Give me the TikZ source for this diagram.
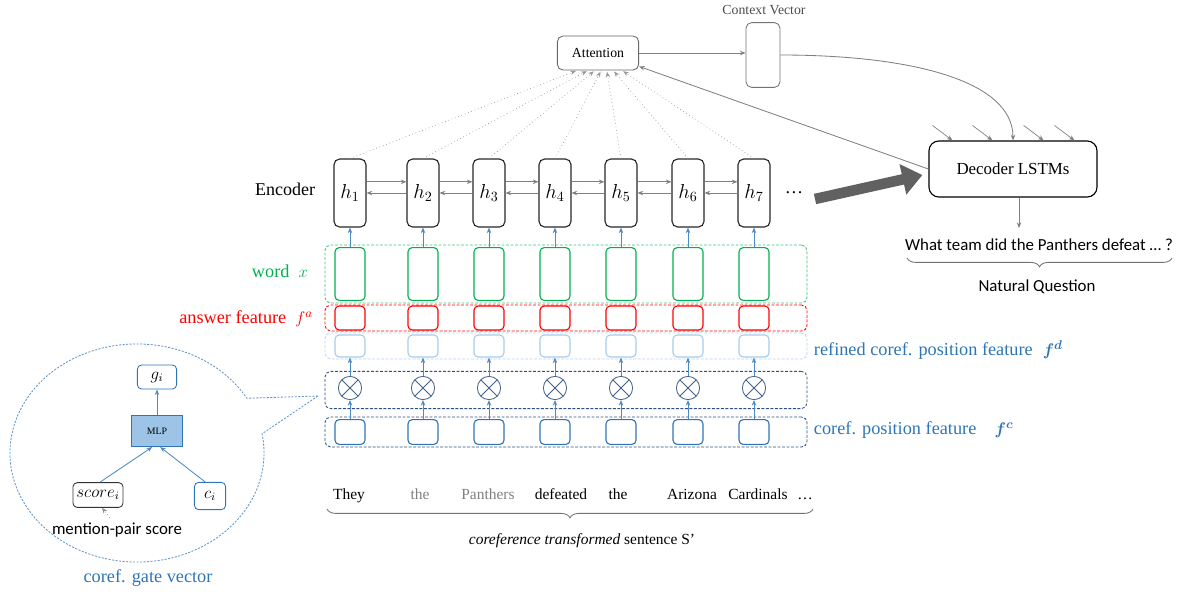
\documentclass[tikz,border=0pt]{standalone}
\usepackage{amsmath}
\usepackage{fontspec}
\setmainfont{Liberation Serif}
\setsansfont{Carlito}
\usetikzlibrary{arrows.meta, positioning, shapes.geometric, shapes.callouts, decorations.pathreplacing, calc}
\definecolor{wordgreen}{HTML}{00B050}
\definecolor{ansred}{HTML}{FF0000}
\definecolor{corefblue}{HTML}{2E75B6}
\definecolor{paleblue}{HTML}{A9CBEA}
\definecolor{darkblue}{HTML}{2F4F7F}
\definecolor{slateblue}{HTML}{44618A}
\definecolor{mlpfill}{HTML}{9DC3E6}
\colorlet{arrowgray}{black!50}

\begin{document}
\begin{tikzpicture}[x=0.025cm, y=-0.025cm, >={Stealth[length=4pt,width=3.2pt]},
    hbox/.style = {rectangle, rounded corners=4pt, draw=black!85, line width=0.8pt, minimum width=0.8cm, minimum height=1.7cm, font=\fontsize{14}{16}\selectfont},
    wordbox/.style = {rectangle, rounded corners=3pt, draw=wordgreen, line width=0.8pt, minimum width=0.75cm, minimum height=1.32cm},
    ansbox/.style = {rectangle, rounded corners=3pt, draw=ansred, line width=0.8pt, minimum width=0.75cm, minimum height=0.6cm},
    refbox/.style = {rectangle, rounded corners=3pt, draw=paleblue, line width=0.8pt, minimum width=0.75cm, minimum height=0.55cm},
    corefbox/.style = {rectangle, rounded corners=3pt, draw=corefblue, line width=0.8pt, minimum width=0.75cm, minimum height=0.62cm},
    gate/.style = {circle, draw=slateblue, line width=0.6pt, minimum size=0.58cm, inner sep=0pt,
        path picture={\draw[slateblue, line width=0.6pt] (path picture bounding box.north west) -- (path picture bounding box.south east) (path picture bounding box.north east) -- (path picture bounding box.south west);}},
    group/.style = {rectangle, rounded corners=4pt, dash pattern=on 2pt off 1.2pt, line width=0.6pt, minimum width=12.05cm},
    lbl/.style = {font=\fontsize{13}{15}\selectfont},
    sanslbl/.style = {font=\sffamily\fontsize{12}{14}\selectfont},
    uparrow/.style = {->, corefblue!85, line width=0.6pt},
    grayarrow/.style = {->, arrowgray, line width=0.6pt},
    attn/.style = {->, black!40, dotted, line width=0.5pt, shorten >=1pt},
    bigarrow/.style = {-{Triangle[length=0.5cm, width=0.75cm]}, line width=7.5pt, black!62},
    brace/.style = {decorate, decoration={brace, mirror, amplitude=0.22cm}, black!55, line width=0.6pt}]
    \useasboundingbox (0,0) rectangle (1182,594);

    % Groups
    \node (wordgrp) [group, draw=wordgreen!75] at (566,274) [minimum height=1.45cm] {};
    \node (ansgrp) [group, draw=ansred] at (566,318) [minimum height=0.65cm] {};
    \node (refgrp) [group, draw=paleblue!80] at (566,346) [minimum height=0.65cm] {};
    \node (gategrp) [group, draw=darkblue] at (566,390) [minimum height=0.93cm] {};
    \node (corefgrp) [group, draw=darkblue] at (566,432) [minimum height=0.75cm] {};

    % Columns
    \foreach \i/\x/\d in {1/350/-0.52, 2/423/-0.25, 3/489/-0.08, 4/555/0.08, 5/621/0.22, 6/688/0.38, 7/754/0.6} {
        \node (h\i) [hbox] at (\x,193) {$h_{\i}$};
        \node (w\i) [wordbox] at (\x,274) {};
        \node (a\i) [ansbox] at (\x,318) {};
        \node (r\i) [refbox] at (\x,346) {};
        \node (g\i) [gate] at (\x,388) {};
        \node (c\i) [corefbox] at (\x,432) {};
        \draw [uparrow] (w\i.north) -- (h\i.south);
        \draw [uparrow] (c\i.north) -- (g\i.south);
        \draw [uparrow] (g\i.north) -- (r\i.south);
    }
    \node (dots) at (794,193) [font=\fontsize{13}{15}\selectfont] {\dots};
    \node (enc) at (285,189) [font=\fontsize{12.8}{15}\selectfont] {Encoder};

    % Labels
    \node (wordlbl) [lbl, anchor=east, text=wordgreen] at (313,271) {word\enspace$x$};
    \node (anslbl) [lbl, anchor=east, text=ansred] at (318,319) {answer feature\enspace$f^{a}$};
    \node (reflbl) [lbl, anchor=west, text=corefblue] at (809,350) {refined coref. position feature\hspace{0.55em}$\boldsymbol{f^{d}}$};
    \node (coreflbl) [lbl, anchor=west, text=corefblue] at (809,430) {coref. position feature\quad$\boldsymbol{f^{c}}$};

    % Attention and decoder
    \node (att) [rectangle, rounded corners=4pt, draw=black!60, line width=0.6pt, minimum width=2.03cm, minimum height=0.85cm, font=\fontsize{9.8}{11}\selectfont] at (598,53) {Attention};
    \node (ctx) [rectangle, rounded corners=4pt, draw=black!55, line width=0.6pt, minimum width=0.85cm, minimum height=1.62cm] at (763,55) {};
    \node (ctxlbl) [text=black!70, font=\fontsize{9.8}{11}\selectfont] at (764,10) {Context Vector};
    \node (dec) [rectangle, rounded corners=7pt, draw=black, line width=0.8pt, minimum width=4.2cm, minimum height=1.4cm, font=\fontsize{12}{14}\selectfont] at (1013,169) {Decoder LSTMs};
    \node (q) [sanslbl] at (1039,245) {What team did the Panthers defeat … ?};
    \node (nq) [sanslbl] at (1037,287) {Natural Question};

    % Arrows
    \foreach \i/\x/\d in {1/350/-0.52, 2/423/-0.25, 3/489/-0.08, 4/555/0.08, 5/621/0.22, 6/688/0.38, 7/754/0.6} {
        \draw [attn] (h\i.north) -- ([xshift=\d cm]att.south);
    }
    \foreach \i [evaluate=\i as \j using int(\i+1)] in {1,...,6} {
        \draw [grayarrow] ([yshift=0.28cm]h\i.east) -- ([yshift=0.28cm]h\j.west);
        \draw [grayarrow] ([yshift=0cm]h\j.west) -- ([yshift=0cm]h\i.east);
    }
    \draw [grayarrow] (att.east) -- (att.east -| ctx.west);
    \draw [grayarrow] (ctx.east) .. controls +(130,0) and +(0,-60) .. (dec.north);
    \draw [grayarrow] (dec.west) -- ([yshift=0.1cm]att.south east);
    \foreach \o [count=\k] in {0.6,1.6,2.88,3.65} {
        \coordinate (din\k) at ([shift={(-20,-15)}, xshift=\o cm]dec.north west);
        \draw [grayarrow, line width=0.5pt] (din\k) -- ([xshift=\o cm]dec.north west);
    }
    \coordinate (bigtail) at (815,199);
    \draw [bigarrow] (bigtail) -- ([shift={(-6,6)}]dec.west);
    \coordinate (qtop) at (1019,228);
    \draw [grayarrow] (dec.south -| qtop) -- (qtop);
    \coordinate (qbl) at (907,258);
    \coordinate (qbr) at (1172,258);
    \draw [brace] (qbl) -- (qbr);

    % Sentence
    \foreach \i/\x/\w/\c in {1/349/They/black, 2/420/the/black!50, 3/488/Panthers/black!50, 4/561/defeated/black, 5/618/the/black, 6/692/Arizona/black, 7/758/Cardinals/black, 8/805/\dots/black} {
        \node (s\i) [text=\c, font=\fontsize{11}{13}\selectfont, anchor=base] at (\x,499) {\w};
    }
    \coordinate (sbl) at (327,509);
    \coordinate (sbr) at (813,509);
    \draw [brace] (sbl) -- (sbr);
    \node (scap) [font=\fontsize{11}{13}\selectfont] at (582,541) {\textit{coreference transformed} sentence S’};

    % Gate vector bubble
    \node (bubble) [ellipse callout, draw=corefblue!75, dash pattern=on 1.5pt off 1pt, line width=0.6pt, minimum width=6.35cm, minimum height=5.45cm, callout absolute pointer={(318,396)}, callout pointer arc=20] at (137,453) {};
    \node (gi) [rectangle, rounded corners=3pt, draw=corefblue, line width=0.6pt, minimum width=0.98cm, minimum height=0.6cm, font=\fontsize{12}{14}\selectfont] at (157,377) {$g_i$};
    \node (mlp) [rectangle, draw=corefblue, fill=mlpfill, line width=0.6pt, minimum width=1.28cm, minimum height=0.78cm, font=\fontsize{7}{8}\selectfont] at (157,431) {MLP};
    \node (score) [rectangle, rounded corners=3pt, draw=black!80, line width=0.6pt, minimum width=1.25cm, minimum height=0.62cm, inner sep=1pt, font=\fontsize{12}{14}\selectfont] at (98,495) {$score_i$};
    \node (ci) [rectangle, rounded corners=3pt, draw=corefblue, line width=0.6pt, minimum width=0.78cm, minimum height=0.68cm, font=\fontsize{12}{14}\selectfont] at (210,496) {$c_i$};
    \node (mps) [sanslbl] at (117,530) {mention-pair score};
    \node (gatelbl) [lbl, text=corefblue] at (148,578) {coref. gate vector};
    \draw [uparrow] (mlp.north) -- (gi.south);
    \draw [uparrow] ([xshift=0.05cm]score.north) -- ([xshift=-0.12cm]mlp.south);
    \draw [uparrow] ([xshift=-0.12cm]ci.north) -- ([xshift=0.08cm]mlp.south);
    \draw [->, black!45, dotted, line width=0.5pt] ([xshift=-0.18cm]mps.north) -- ([xshift=0.1cm]score.south);
\end{tikzpicture}
\end{document}
